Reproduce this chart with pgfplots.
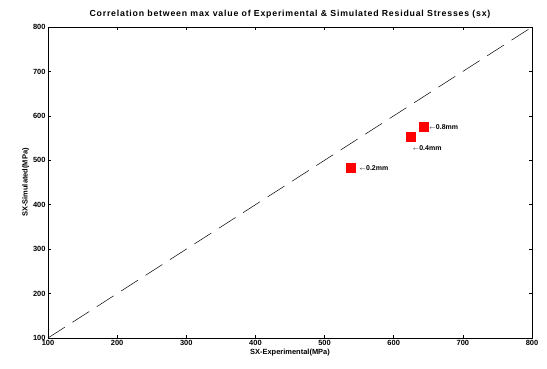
\documentclass[border=0pt]{standalone}
\usepackage{pgfplots}
\pgfplotsset{compat=1.18}
\usepackage{fontspec}
\setmainfont{Liberation Sans}
\begin{document}
\begin{tikzpicture}[x=1bp,y=1bp]
\useasboundingbox (-48bp,-31bp) rectangle (499bp,338bp);
\begin{axis}[
  at={(0,0)}, anchor=south west,
  scale only axis, width=484bp, height=311bp,
  xmin=100, xmax=800, ymin=100, ymax=800,
  xtick={100,200,...,800}, ytick={100,200,...,800},
  tick align=inside, tick pos=both,
  major tick length=3bp,
  axis line style={line width=0.6pt},
  every tick/.style={black, line width=0.5pt},
  tick label style={font=\fontsize{7.5}{8}\selectfont\bfseries},
  /pgf/number format/assume math mode=true,
  xticklabel style={yshift=1bp},
  yticklabel style={xshift=1bp},
  title={Correlation between max value of Experimental \& Simulated Residual Stresses (sx)},
  title style={font=\fontsize{8.8}{9}\selectfont\bfseries\addfontfeatures{LetterSpace=9}, at={(0.5,1)}, anchor=south, yshift=-1bp},
  xlabel={SX-Experimental(MPa)},
  ylabel={SX-Simulated(MPa)},
  xlabel style={font=\fontsize{7.5}{8}\selectfont\bfseries, yshift=4bp},
  ylabel style={font=\fontsize{7.5}{8}\selectfont\bfseries, yshift=-3bp},
  clip=false,
]
\addplot[black, line width=0.5pt, dash pattern=on 20bp off 9bp] coordinates {(100,100) (800,800)};
\addplot[only marks, mark=square*, mark size=4.5bp, red, mark options={fill=red, draw=red}] coordinates {
(538,484) (625,552) (643,575)};
\node[anchor=west, font=\fontsize{7}{8}\selectfont\bfseries, inner sep=0pt] at (axis cs:651,575) {$\scriptstyle\leftarrow$0.8mm};
\node[anchor=west, font=\fontsize{7}{8}\selectfont\bfseries, inner sep=0pt] at (axis cs:627,527) {$\scriptstyle\leftarrow$0.4mm};
\node[anchor=west, font=\fontsize{7}{8}\selectfont\bfseries, inner sep=0pt] at (axis cs:550,482) {$\scriptstyle\leftarrow$0.2mm};
\end{axis}
\end{tikzpicture}
\end{document}
